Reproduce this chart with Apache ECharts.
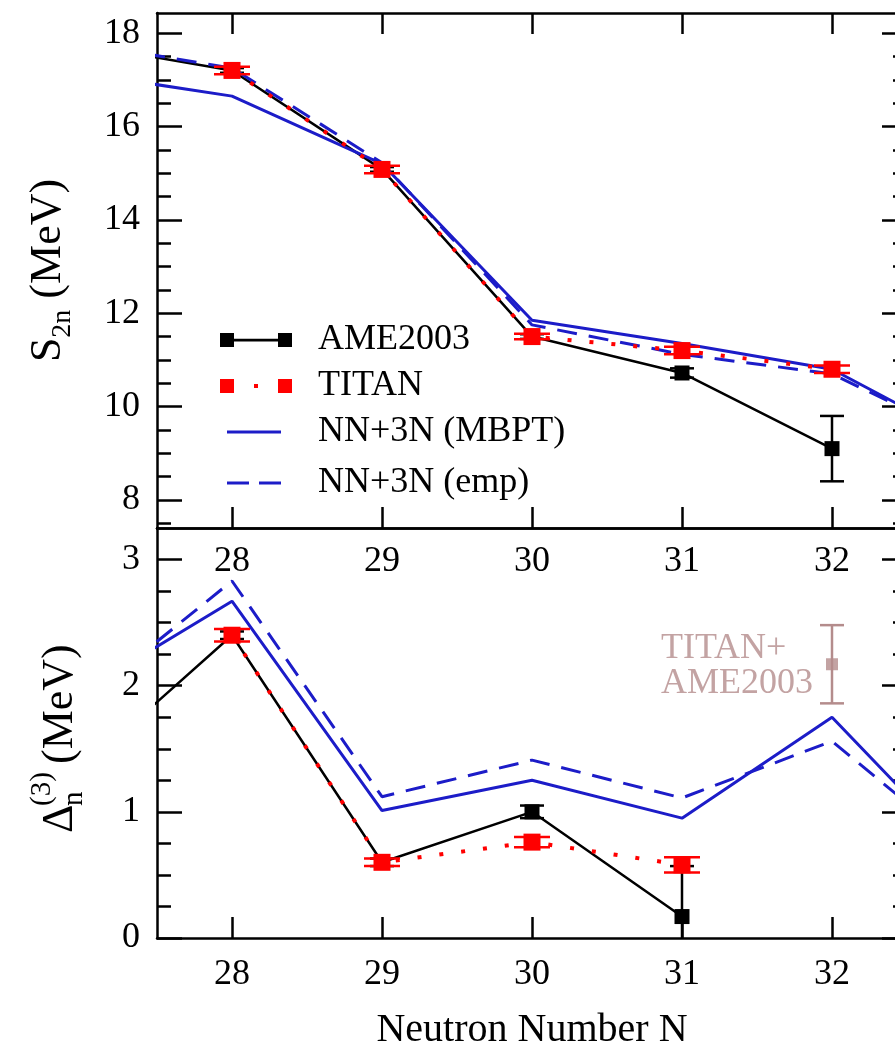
<!DOCTYPE html>
<html>
<head>
<meta charset="utf-8">
<title>S2n and three-point gap</title>
<script src="https://cdn.jsdelivr.net/npm/echarts@6.0.0/dist/echarts.min.js"></script>
<style>
  html, body { margin: 0; padding: 0; background: #fff; }
  #chart { width: 895px; height: 1057px; }
</style>
</head>
<body>
<div id="chart"></div>
<script>
// neutron numbers used by each series
const nModel = [27, 28, 29, 30, 31, 32, 33];
const nAme = [27, 28, 29, 30, 31, 32];
const nTitan = [28, 29, 30, 31, 32];
const nGapAme = [27, 28, 29, 30, 31];
const nGapTitan = [28, 29, 30, 31];
const nCombined = [32];

// top panel: S2n (MeV)
const s2nAme = [17.75, 17.2, 15.08, 11.5, 10.72, 9.1];
const s2nAmeErr = [0.05, 0.05, 0.05, 0.05, 0.1, 0.7];
const s2nTitan = [17.2, 15.08, 11.5, 11.2, 10.8];
const s2nTitanErr = [0.08, 0.08, 0.06, 0.08, 0.08];
const s2nMbpt = [17.14, 16.65, 15.2, 11.85, 11.35, 10.8, 9.1];
const s2nEmp = [17.78, 17.25, 15.22, 11.75, 11.12, 10.7, 9.15];

// bottom panel: three-point gap (MeV)
const gapAme = [1.34, 2.4, 0.6, 1.0, 0.17];
const gapAmeErr = [0.03, 0.03, 0.03, 0.05, 0.4];
const gapTitan = [2.4, 0.6, 0.76, 0.58];
const gapTitanErr = [0.05, 0.03, 0.04, 0.06];
const gapMbpt = [1.95, 2.67, 1.01, 1.25, 0.95, 1.75, 0.51];
const gapEmp = [1.87, 2.83, 1.12, 1.41, 1.11, 1.56, 0.58];
const gapCombined = [2.17];
const gapCombinedErr = [0.31];

// tick values
const nTicks = [28, 29, 30, 31, 32];
const s2nMajor = [8, 10, 12, 14, 16, 18];
const s2nMinor = [7.5, 8.5, 9, 9.5, 10.5, 11, 11.5, 12.5, 13, 13.5, 14.5, 15, 15.5, 16.5, 17, 17.5];
const gapMajor = [0, 1, 2, 3];
const gapMinor = [0.25, 0.5, 0.75, 1.25, 1.5, 1.75, 2.25, 2.5, 2.75];

const FONT = '"Liberation Serif", "Times New Roman", serif';
const BLUE = '#1c1cc8';
const RED = '#ff0000';
const ROSY = '#b48c8c';

document.addEventListener('DOMContentLoaded', function () {
    const chart = echarts.init(document.getElementById('chart'));

    function pairs(xs, ys) {
        return xs.map(function (x, i) { return [x, ys[i]]; });
    }

    // x axis (neutron number)
    function xAxis(grid, pos, ticks, labels, name) {
        return {
            type: 'value', gridIndex: grid, position: pos, min: 27.5, max: 32.5,
            splitLine: { show: false },
            axisLine: { show: true, onZero: false, lineStyle: { color: '#000', width: 2.5 } },
            axisTick: { show: ticks, inside: true, length: 21, customValues: nTicks,
                lineStyle: { color: '#000', width: 2.5 } },
            axisLabel: { show: labels, customValues: nTicks, margin: grid === 0 ? 16 : 19, color: '#000',
                fontSize: 36, fontFamily: FONT },
            name: name || '', nameLocation: 'middle', nameGap: 72,
            nameTextStyle: { color: '#000', fontSize: 40, fontFamily: FONT }
        };
    }

    // y axis; minor ticks get their own axis with shorter ticks
    function yAxis(grid, pos, min, max, ticks, len, labels, line) {
        return {
            type: 'value', gridIndex: grid, position: pos, min: min, max: max,
            splitLine: { show: false },
            axisLine: { show: line, onZero: false, lineStyle: { color: '#000', width: 2.5 } },
            axisTick: { show: true, inside: true, length: len, customValues: ticks,
                lineStyle: { color: '#000', width: 2.5 } },
            axisLabel: { show: labels, customValues: ticks, margin: 17, color: '#000',
                fontSize: 36, fontFamily: FONT }
        };
    }

    function lineSeries(name, xIdx, yIdx, xs, ys, color, type, width, symbolSize, z) {
        return {
            type: 'line', name: name, xAxisIndex: xIdx, yAxisIndex: yIdx, z: z,
            data: pairs(xs, ys),
            clip: true,
            symbol: symbolSize ? 'rect' : 'none',
            symbolSize: symbolSize || 0,
            itemStyle: { color: color },
            lineStyle: { color: color, width: width, type: type },
            emphasis: { disabled: true }
        };
    }

    // vertical error bars with caps
    function errorBars(xIdx, yIdx, xs, ys, es, color, capHalf, z) {
        return {
            type: 'custom', xAxisIndex: xIdx, yAxisIndex: yIdx, z: z, clip: true, silent: true,
            data: xs.map(function (x, i) { return [x, ys[i], es[i]]; }),
            encode: { x: 0, y: 1 },
            renderItem: function (params, api) {
                const x = api.value(0), y = api.value(1), e = api.value(2);
                const hi = api.coord([x, y + e]);
                const lo = api.coord([x, y - e]);
                const st = { stroke: color, lineWidth: 2.5 };
                return {
                    type: 'group',
                    children: [
                        { type: 'line', shape: { x1: hi[0], y1: hi[1], x2: lo[0], y2: lo[1] }, style: st },
                        { type: 'line', shape: { x1: hi[0] - capHalf, y1: hi[1], x2: hi[0] + capHalf, y2: hi[1] }, style: st },
                        { type: 'line', shape: { x1: lo[0] - capHalf, y1: lo[1], x2: lo[0] + capHalf, y2: lo[1] }, style: st }
                    ]
                };
            }
        };
    }

    const legendText = { color: '#000', fontSize: 36, fontFamily: FONT };

    chart.setOption({
        animation: false,
        backgroundColor: '#fff',
        grid: [
            { left: 157, top: 13, width: 750, height: 515, containLabel: false, outerBoundsMode: 'none' },
            { left: 157, top: 528, width: 750, height: 410, containLabel: false, outerBoundsMode: 'none' }
        ],
        xAxis: [
            xAxis(0, 'bottom', true, true),
            xAxis(0, 'top', true, false),
            xAxis(1, 'bottom', true, true, 'Neutron Number N'),
            xAxis(1, 'top', false, false)
        ],
        yAxis: [
            Object.assign(yAxis(0, 'left', 7.4, 18.43, s2nMajor, 25, true, true), {
                name: '{m|S}{sub|2n}{m| (MeV)}', nameLocation: 'middle', nameGap: 80,
                nameTextStyle: {
                    color: '#000', fontSize: 44, fontFamily: FONT,
                    rich: {
                        m: { fontSize: 44, fontFamily: FONT, color: '#000' },
                        sub: { fontSize: 28, fontFamily: FONT, color: '#000', verticalAlign: 'bottom', padding: [30, 0, 0, 0] }
                    }
                }
            }),
            yAxis(0, 'left', 7.4, 18.43, s2nMinor, 14, false, false),
            yAxis(0, 'right', 7.4, 18.43, s2nMajor, 25, false, true),
            yAxis(0, 'right', 7.4, 18.43, s2nMinor, 14, false, false),
            yAxis(1, 'left', 0, 3.25, gapMajor, 25, true, true),
            yAxis(1, 'left', 0, 3.25, gapMinor, 14, false, false),
            yAxis(1, 'right', 0, 3.25, gapMajor, 25, false, true),
            yAxis(1, 'right', 0, 3.25, gapMinor, 14, false, false)
        ],
        legend: [
            {
                orient: 'vertical', left: 215, top: 317, itemWidth: 72, itemHeight: 14, itemGap: 10,
                selectedMode: false,
                textStyle: Object.assign({ padding: [0, 0, 0, 21] }, legendText),
                data: [
                    { name: 'AME2003', icon: 'path://M0,0h14v14h-14zM14,5.8h44v2.6h-44zM58,0h14v14h-14z', itemStyle: { borderWidth: 0 } },
                    { name: 'TITAN', icon: 'path://M0,0h14v14h-14zM34,5h4v4h-4zM58,0h14v14h-14z', itemStyle: { borderWidth: 0 } }
                ]
            },
            {
                orient: 'vertical', left: 222, top: 409, itemWidth: 54, itemHeight: 3, itemGap: 15,
                selectedMode: false,
                textStyle: Object.assign({ padding: [0, 0, 0, 32] }, legendText),
                data: [
                    { name: 'NN+3N (MBPT)', icon: 'rect', itemStyle: { borderWidth: 0 } },
                    { name: 'NN+3N (emp)', icon: 'path://M0,0h22v3h-22zM32,0h22v3h-22z', itemStyle: { borderWidth: 0 } }
                ]
            }
        ],
        graphic: [
            {
                // bottom panel y title: Delta with sub n and sup (3)
                type: 'group', x: 60, y: 737, rotation: Math.PI / 2,
                children: [
                    { type: 'text', x: -96, y: 0, style: { text: 'Δ', font: '44px ' + FONT, fill: '#000', verticalAlign: 'middle' } },
                    { type: 'text', x: -69, y: 14, style: { text: 'n', font: '29px ' + FONT, fill: '#000', verticalAlign: 'middle' } },
                    { type: 'text', x: -69, y: -18, style: { text: '(3)', font: '29px ' + FONT, fill: '#000', verticalAlign: 'middle' } },
                    { type: 'text', x: -27, y: 0, style: { text: '(MeV)', font: '44px ' + FONT, fill: '#000', verticalAlign: 'middle' } }
                ]
            }
        ],
        series: [
            // top panel
            lineSeries('AME2003', 0, 0, nAme, s2nAme, '#000', 'solid', 2.5, 15, 3),
            errorBars(0, 0, nAme, s2nAme, s2nAmeErr, '#000', 12, 3),
            lineSeries('NN+3N (MBPT)', 0, 0, nModel, s2nMbpt, BLUE, 'solid', 3, 0, 4),
            lineSeries('NN+3N (emp)', 0, 0, nModel, s2nEmp, BLUE, [20, 12], 3, 0, 4),
            errorBars(0, 0, nTitan, s2nTitan, s2nTitanErr, RED, 18, 5),
            lineSeries('TITAN', 0, 0, nTitan, s2nTitan, RED, [4, 18], 4, 17, 5),

            // bottom panel
            lineSeries('AME2003', 2, 4, nGapAme, gapAme, '#000', 'solid', 2.5, 15, 3),
            errorBars(2, 4, nGapAme, gapAme, gapAmeErr, '#000', 12, 3),
            lineSeries('NN+3N (MBPT)', 2, 4, nModel, gapMbpt, BLUE, 'solid', 3, 0, 4),
            lineSeries('NN+3N (emp)', 2, 4, nModel, gapEmp, BLUE, [20, 12], 3, 0, 4),
            errorBars(2, 4, nGapTitan, gapTitan, gapTitanErr, RED, 18, 5),
            lineSeries('TITAN', 2, 4, nGapTitan, gapTitan, RED, [4, 18], 4, 17, 5),
            errorBars(2, 4, nCombined, gapCombined, gapCombinedErr, ROSY, 12, 5),
            {
                type: 'scatter', name: 'TITAN+AME2003', xAxisIndex: 2, yAxisIndex: 4, z: 6,
                symbol: 'rect', symbolSize: 12,
                itemStyle: { color: ROSY },
                data: pairs(nCombined, gapCombined),
                label: {
                    show: true, position: [-165, -27], align: 'left', verticalAlign: 'top',
                    formatter: 'TITAN+\nAME2003', color: ROSY, fontSize: 36, lineHeight: 35, fontFamily: FONT
                },
                emphasis: { disabled: true }
            }
        ]
    });
});
</script>
</body>
</html>
